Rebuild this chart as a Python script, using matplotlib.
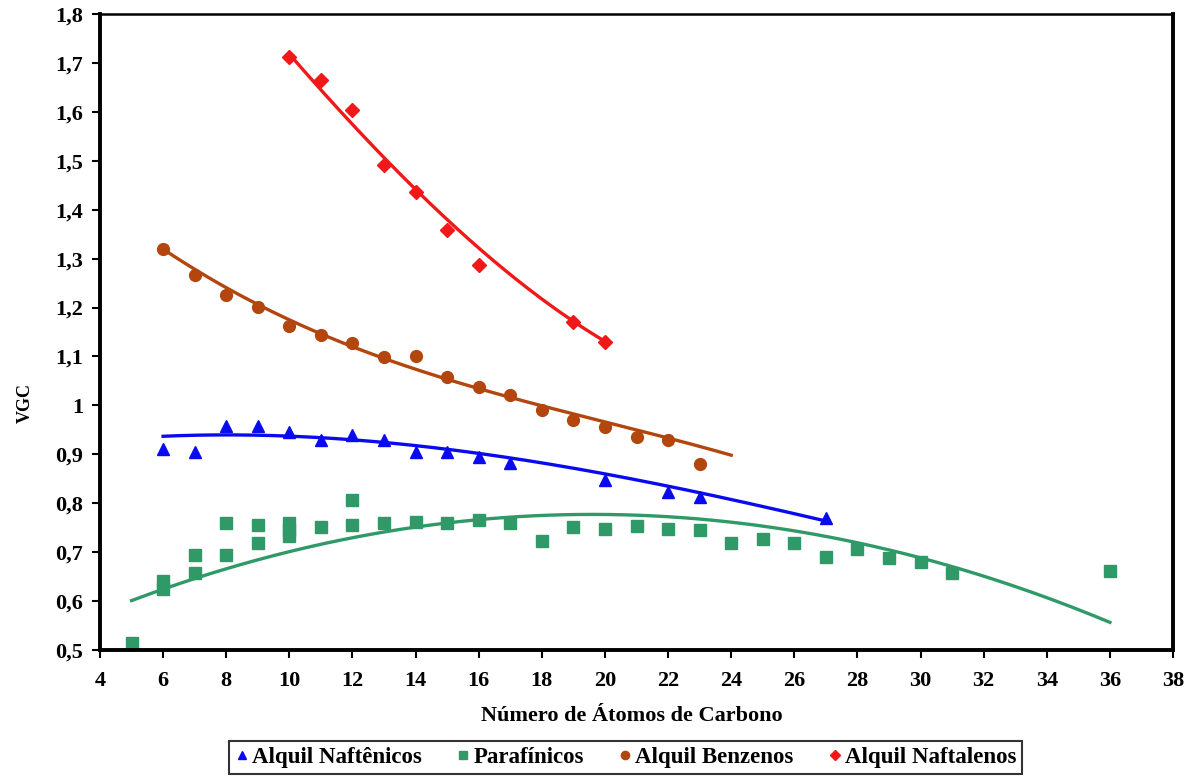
import numpy as np
import matplotlib
matplotlib.use('agg')
import matplotlib.pyplot as plt
from matplotlib.ticker import FuncFormatter, MultipleLocator

plt.rcParams['font.family'] = ['Liberation Serif', 'DejaVu Serif']
plt.rcParams['font.weight'] = 'bold'

# VGC versus carbon number for each hydrocarbon family
naft_x = [6, 7, 8, 9, 10, 11, 12, 13, 14, 15, 16, 17, 20, 22, 23, 27]
naft_y = [0.911, 0.905, 0.958, 0.958, 0.946, 0.929, 0.940, 0.929, 0.905, 0.905,
          0.895, 0.882, 0.848, 0.823, 0.813, 0.770]

paraf_x = [5, 6, 6, 7, 7, 8, 8, 9, 9, 10, 10, 10, 11, 12, 12, 13, 14, 15, 16, 17,
           18, 19, 20, 21, 22, 23, 24, 25, 26, 27, 28, 29, 30, 31, 36]
paraf_y = [0.514, 0.640, 0.625, 0.694, 0.657, 0.760, 0.694, 0.756, 0.719, 0.760,
           0.745, 0.733, 0.752, 0.807, 0.756, 0.760, 0.762, 0.760, 0.766, 0.760,
           0.723, 0.752, 0.747, 0.754, 0.747, 0.745, 0.719, 0.727, 0.719, 0.690,
           0.707, 0.688, 0.680, 0.657, 0.662]

benz_x = [6, 7, 8, 9, 10, 11, 12, 13, 14, 15, 16, 17, 18, 19, 20, 21, 22, 23]
benz_y = [1.320, 1.267, 1.226, 1.201, 1.163, 1.144, 1.128, 1.099, 1.101, 1.058,
          1.038, 1.021, 0.991, 0.970, 0.956, 0.936, 0.929, 0.880]

naftal_x = [10, 11, 12, 13, 14, 15, 16, 19, 20]
naftal_y = [1.712, 1.666, 1.604, 1.492, 1.437, 1.359, 1.287, 1.171, 1.130]

# trend line values at selected carbon numbers
naft_trend_x = [6, 8, 10, 12, 14, 16, 18, 20, 22, 24, 26, 27]
naft_trend_y = [0.938, 0.939, 0.936, 0.928, 0.918, 0.904, 0.885, 0.860, 0.832,
                0.806, 0.780, 0.764]

paraf_trend_x = [5, 8, 10, 12, 14, 16, 18, 20, 22, 24, 26, 28, 30, 32, 34, 36]
paraf_trend_y = [0.598, 0.670, 0.702, 0.729, 0.752, 0.766, 0.772, 0.778, 0.772,
                 0.762, 0.741, 0.718, 0.688, 0.657, 0.608, 0.553]

benz_trend_x = [6, 8, 10, 12, 14, 16, 18, 20, 22, 24]
benz_trend_y = [1.324, 1.236, 1.169, 1.120, 1.079, 1.042, 0.998, 0.961, 0.928,
                0.903]

naftal_trend_x = [10, 11, 12, 13, 14, 15, 16, 18, 20]
naftal_trend_y = [1.718, 1.645, 1.575, 1.505, 1.442, 1.380, 1.322, 1.217, 1.131]

series = [
    ('Alquil Naftênicos', naft_x, naft_y, naft_trend_x, naft_trend_y,
     '#0a0af0', '^', 8.5),
    ('Parafínicos', paraf_x, paraf_y, paraf_trend_x, paraf_trend_y,
     '#2f9a68', 's', 8.5),
    ('Alquil Benzenos', benz_x, benz_y, benz_trend_x, benz_trend_y,
     '#b3450f', 'o', 8.5),
    ('Alquil Naftalenos', naftal_x, naftal_y, naftal_trend_x, naftal_trend_y,
     '#f01818', 'D', 7),
]

fig = plt.figure(figsize=(11.85, 7.8), dpi=100)
ax = fig.add_axes([0.0844, 0.1667, 0.9055, 0.8153])

for name, xs, ys, tx, ty, color, mk, ms in series:
    ax.plot(xs, ys, linestyle='none', marker=mk, markersize=ms, color=color,
            label=name)
    # smooth the trend line through its values with a cubic
    coef = np.polyfit(tx, ty, 3)
    xx = np.linspace(tx[0], tx[-1], 200)
    ax.plot(xx, np.polyval(coef, xx), color=color, linewidth=2.4)

ax.set_xlim(4, 38)
ax.set_ylim(0.5, 1.8)
ax.xaxis.set_major_locator(MultipleLocator(2))
ax.yaxis.set_major_locator(MultipleLocator(0.1))
ax.yaxis.set_major_formatter(FuncFormatter(
    lambda v, p: ('%g' % round(v, 1)).replace('.', ',')))

for side in ['left', 'bottom', 'right']:
    ax.spines[side].set_linewidth(2.8)
ax.spines['top'].set_linewidth(1.8)
ax.tick_params(direction='out', length=6, width=1.5, labelsize=16)
ax.tick_params(axis='x', pad=9)
ax.tick_params(axis='y', pad=6)

ax.set_xlabel('Número de Átomos de Carbono', fontsize=16, fontweight='bold')
ax.xaxis.set_label_coords(0.496, -0.088)
ax.set_ylabel('VGC', fontsize=13, fontweight='bold')
ax.yaxis.set_label_coords(-0.062, 0.388)

leg = fig.legend(loc='center', bbox_to_anchor=(0.528, 0.029), ncol=4,
                 frameon=True, fancybox=False, fontsize=16.5, handletextpad=0.15,
                 columnspacing=1.5, markerscale=0.7, borderpad=0.25,
                 handlelength=0.6, borderaxespad=0.2)
leg.get_frame().set_edgecolor('black')
leg.get_frame().set_linewidth(1.5)

fig.savefig('out.png', dpi=100)
